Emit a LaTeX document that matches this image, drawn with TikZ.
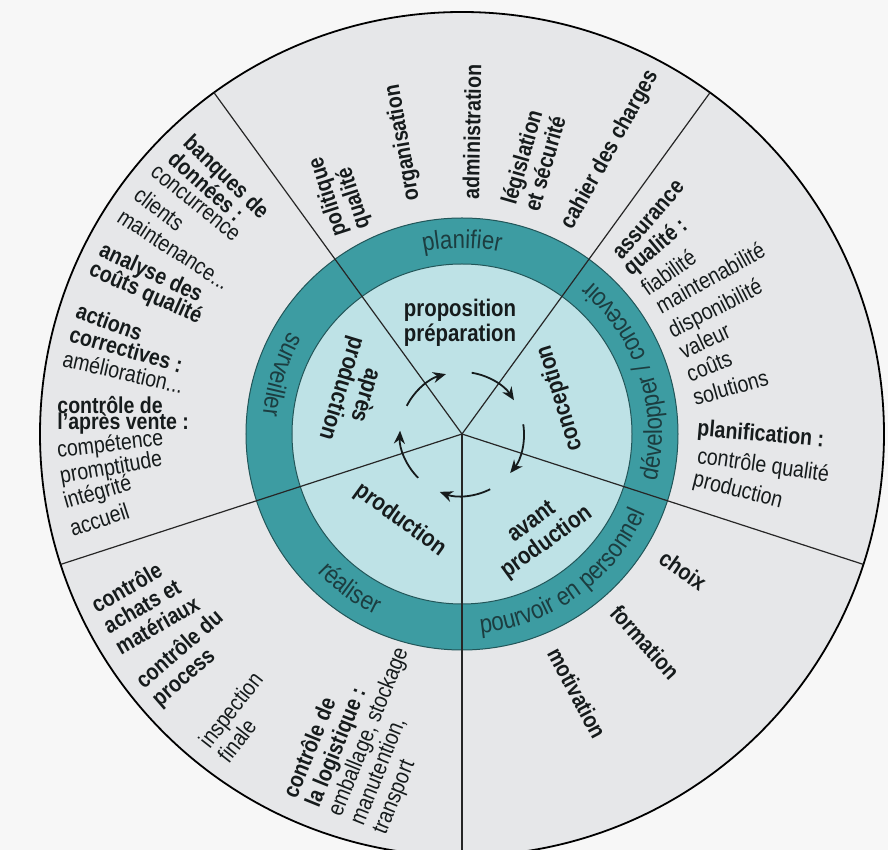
\documentclass[tikz,border=0pt]{standalone}
\usepackage{fontspec}
\setmainfont{Liberation Sans}[FakeStretch=0.85]
\usetikzlibrary{arrows.meta,decorations.text}
\definecolor{pageFill}{HTML}{F7F7F7}
\definecolor{wheelFill}{HTML}{E6E7E9}
\definecolor{ringTeal}{HTML}{3D9CA2}
\definecolor{coreFill}{HTML}{BEE2E6}
\definecolor{inkDark}{HTML}{161B1C}
\definecolor{ringInk}{HTML}{1C3D40}
\newcommand\ringfont{\fontsize{13}{13}\selectfont}

\begin{document}
\begin{tikzpicture}[x=0.5pt, y=0.5pt,
    word/.style={font=\fontsize{11.5}{12}\selectfont, text=inkDark, inner sep=0pt, align=left},
    keyword/.style={word, font=\fontsize{11.5}{12}\selectfont\bfseries},
    core/.style={font=\fontsize{12}{12.5}\selectfont\bfseries, text=inkDark, inner sep=0pt, align=center},
    divider/.style={line width=0.6pt, draw=black!85},
    cycleArrow/.style={-{Stealth[length=6.5pt, width=5.5pt]}, line width=0.9pt, draw=inkDark},
    ringlabel/.style={decorate, decoration={text along path, text align=center, text color=ringInk}}
]
  % page and wheel
  \fill[pageFill] (-462,-416) rectangle (426,434);
  \useasboundingbox (-462,-416) rectangle (426,434);
  \coordinate (hub) at (0,0);
  \filldraw[fill=wheelFill, draw=black, line width=0.9pt] (hub) circle[radius=422];
  \filldraw[fill=ringTeal, draw=ringTeal!55!black, line width=0.5pt] (hub) circle[radius=216];
  \filldraw[fill=coreFill, draw=ringTeal!55!black, line width=0.5pt] (hub) circle[radius=170];
  \foreach \a in {54,126,198,270,342}
    \draw[divider] (hub) -- (\a:422);

  % ring labels
  \path[ringlabel, decoration={text={|\ringfont|planifier}}] (126:186) arc[start angle=126, end angle=54, radius=186];
  \path[ringlabel, decoration={text={|\ringfont|développer / concevoir}}] (-18:200) arc[start angle=-18, end angle=54, radius=200];
  \path[ringlabel, decoration={text={|\ringfont|pourvoir en personnel}}] (-90:200) arc[start angle=-90, end angle=-18, radius=200];
  \path[ringlabel, decoration={text={|\ringfont|réaliser}}] (198:200) arc[start angle=198, end angle=270, radius=200];
  \path[ringlabel, decoration={text={|\ringfont|surveiller}}] (126:200) arc[start angle=126, end angle=198, radius=200];

  % cycle in the core
  \node[core] (prop) at (-2,111) {proposition\\préparation};
  \node[core, rotate=107] (concep) at (98,36) {conception};
  \node[core, rotate=36] (avant) at (78,-99) {avant\\production};
  \node[core, rotate=-36] (prod) at (-62,-86) {production};
  \node[core, rotate=-107] (apres) at (-109,42) {après\\production};
  \foreach \k in {0,...,4}
    \draw[cycleArrow] ({153-72*\k}:62) arc[start angle={153-72*\k}, end angle={105-72*\k}, radius=62];

  % planifier sector
  \node[keyword, rotate=108] (polit) at (-122,241) {politique\\qualité};
  \node[keyword, rotate=100] (orga) at (-59,291) {organisation};
  \node[keyword, rotate=89] (admin) at (10,302) {administration};
  \node[keyword, rotate=74] (legis) at (71,274) {législation\\et sécurité};
  \node[keyword, rotate=61] (cahier) at (148,284) {cahier des charges};

  % concevoir sector
  \node[keyword, anchor=west, rotate=49] (assur) at (155,177) {assurance};
  \node[keyword, anchor=west, rotate=40] (assurQ) at (165,162) {qualité :};
  \node[word, anchor=west, rotate=35] (fiab) at (181,144) {fiabilité};
  \node[word, anchor=west, rotate=29] (maint) at (195,127) {maintenabilité};
  \node[word, anchor=west, rotate=27] (dispo) at (208,101) {disponibilité};
  \node[word, anchor=west, rotate=25] (valeur) at (218,82) {valeur};
  \node[word, anchor=west, rotate=22] (couts) at (225,59) {coûts};
  \node[word, anchor=west, rotate=16] (solut) at (231,36) {solutions};
  \node[keyword, anchor=west, rotate=-5] (planif) at (235,4) {planification :};
  \node[word, anchor=west, rotate=-8] (ctrlQ) at (235,-23) {contrôle qualité};
  \node[word, anchor=west, rotate=-14] (planProd) at (231,-46) {production};

  % personnel sector
  \node[keyword, rotate=-35] (choix) at (221,-136) {choix};
  \node[keyword, rotate=-48] (forma) at (183,-208) {formation};
  \node[keyword, rotate=-62] (motiv) at (115,-259) {motivation};

  % realiser sector
  \node[keyword, rotate=30] (achats) at (-317,-170) {contrôle\\achats et\\matériaux};
  \node[keyword, rotate=41] (process) at (-274,-225) {contrôle du\\process};
  \node[word, rotate=52] (inspect) at (-222,-283) {inspection\\finale};
  \node[word, rotate=68] (logist) at (-93,-298) {\textbf{contrôle de}\\\textbf{la logistique :}\\emballage, stockage\\manutention,\\transport};

  % surveiller sector
  \node[keyword, anchor=west, rotate=-44] (banq) at (-276,294) {banques de};
  \node[keyword, anchor=west, rotate=-42] (donn) at (-290,279) {données :};
  \node[word, anchor=west, rotate=-39] (concur) at (-309,264) {concurrence};
  \node[word, anchor=west, rotate=-37] (clients) at (-325,242) {clients};
  \node[word, anchor=west, rotate=-33] (mainten) at (-342,220) {maintenance...};
  \node[keyword, anchor=west, rotate=-25] (analy) at (-362,184) {analyse des};
  \node[keyword, anchor=west, rotate=-24] (coutsQ) at (-372,165) {coûts qualité};
  \node[keyword, anchor=west, rotate=-20] (actions) at (-385,124) {actions};
  \node[keyword, anchor=west, rotate=-16] (correc) at (-392,101) {correctives :};
  \node[word, anchor=west, rotate=-13] (amelio) at (-399,76) {amélioration...};
  \node[keyword, anchor=west] (ctrlApres) at (-405,29) {contrôle de};
  \node[keyword, anchor=west] (apresVente) at (-405,11) {l’après vente :};
  \node[word, anchor=west, rotate=7] (compet) at (-405,-18) {compétence};
  \node[word, anchor=west, rotate=10] (prompt) at (-402,-44) {promptitude};
  \node[word, anchor=west, rotate=16] (integr) at (-398,-69) {intégrité};
  \node[word, anchor=west, rotate=18] (accueil) at (-392,-95) {accueil};
\end{tikzpicture}
\end{document}
